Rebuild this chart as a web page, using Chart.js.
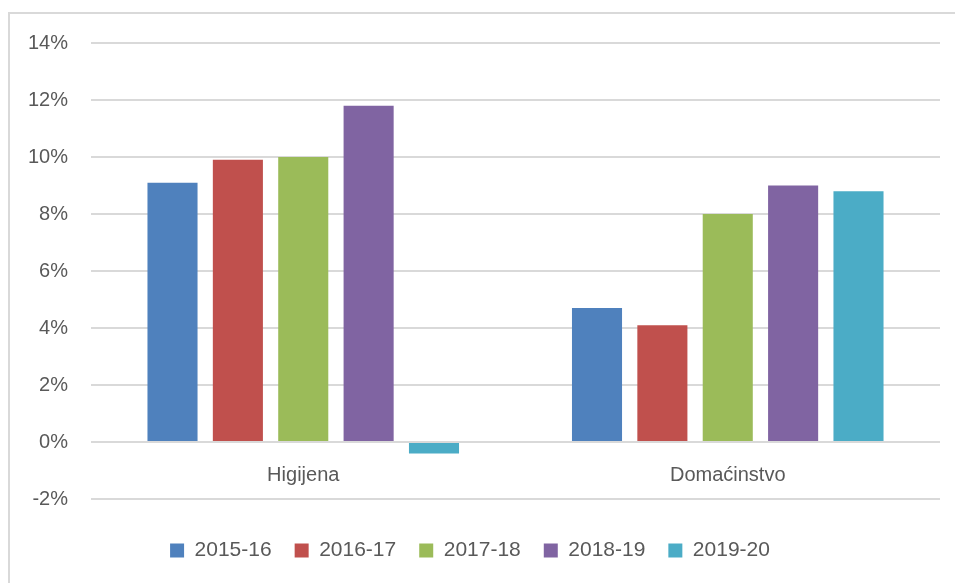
<!DOCTYPE html>
<html>
<head>
<meta charset="utf-8">
<script src="https://cdn.jsdelivr.net/npm/chart.js@4"></script>
<style>
  html, body { margin: 0; padding: 0; background: #fff; overflow: hidden; }
  #wrap { position: relative; width: 955px; height: 583px; overflow: hidden; }
  #frame { position: absolute; left: 8px; top: 12px; width: 960px; height: 580px;
           border-top: 2px solid #d9d9d9; border-left: 2px solid #d9d9d9; box-sizing: border-box; }
  canvas { position: absolute; left: 0; top: 0; }
</style>
</head>
<body>
<div id="wrap">
  <div id="frame"></div>
  <canvas id="myChart" width="955" height="583"></canvas>
</div>
<script>
const categories = ['Higijena', 'Domaćinstvo'];
const seasons = ['2015-16', '2016-17', '2017-18', '2018-19', '2019-20'];
const values2015 = [9.1, 4.7];
const values2016 = [9.9, 4.1];
const values2017 = [10.0, 8.0];
const values2018 = [11.8, 9.0];
const values2019 = [-0.4, 8.8];
const yTicks = [-2, 0, 2, 4, 6, 8, 10, 12, 14];

const colors = ['#4F81BD', '#C0504D', '#9BBB59', '#8064A2', '#4BACC6'];
const seriesValues = [values2015, values2016, values2017, values2018, values2019];
const fontFamily = '"Liberation Sans", Arial, sans-serif';
const textColor = '#595959';

const chartConfig = {
  type: 'bar',
  data: {
    labels: categories,
    datasets: seasons.map((s, i) => ({
      label: s,
      data: seriesValues[i],
      backgroundColor: colors[i],
      borderWidth: 0,
      categoryPercentage: 0.77,
      barPercentage: 0.766
    }))
  },
  options: {
    responsive: false,
    animation: false,
    layout: { padding: { left: 0, right: 15, top: 43, bottom: 12 } },
    plugins: {
      tooltip: { enabled: false },
      legend: {
        position: 'bottom',
        labels: {
          color: textColor,
          font: { family: fontFamily, size: 21 },
          boxWidth: 14,
          boxHeight: 14,
          padding: 23
        }
      }
    },
    scales: {
      x: {
        position: { y: 0 },
        grid: { display: false },
        border: { display: false },
        ticks: { color: textColor, font: { family: fontFamily, size: 20 }, padding: 13 }
      },
      // spacer between plot and legend
      x2: {
        position: 'bottom',
        grid: { display: false },
        border: { display: false },
        ticks: { display: false },
        afterFit: (scale) => { scale.height = 18; }
      },
      y: {
        min: -2,
        max: 14,
        afterFit: (scale) => { scale.width = 91; },
        afterBuildTicks: (scale) => { scale.ticks = yTicks.map(v => ({ value: v })); },
        grid: { color: '#d9d9d9', lineWidth: 2, drawTicks: false },
        border: { display: false },
        ticks: {
          color: textColor,
          font: { family: fontFamily, size: 20 },
          padding: 23,
          callback: (value) => value + '%'
        }
      }
    }
  }
};

new Chart(document.getElementById('myChart').getContext('2d'), chartConfig);
</script>
</body>
</html>
